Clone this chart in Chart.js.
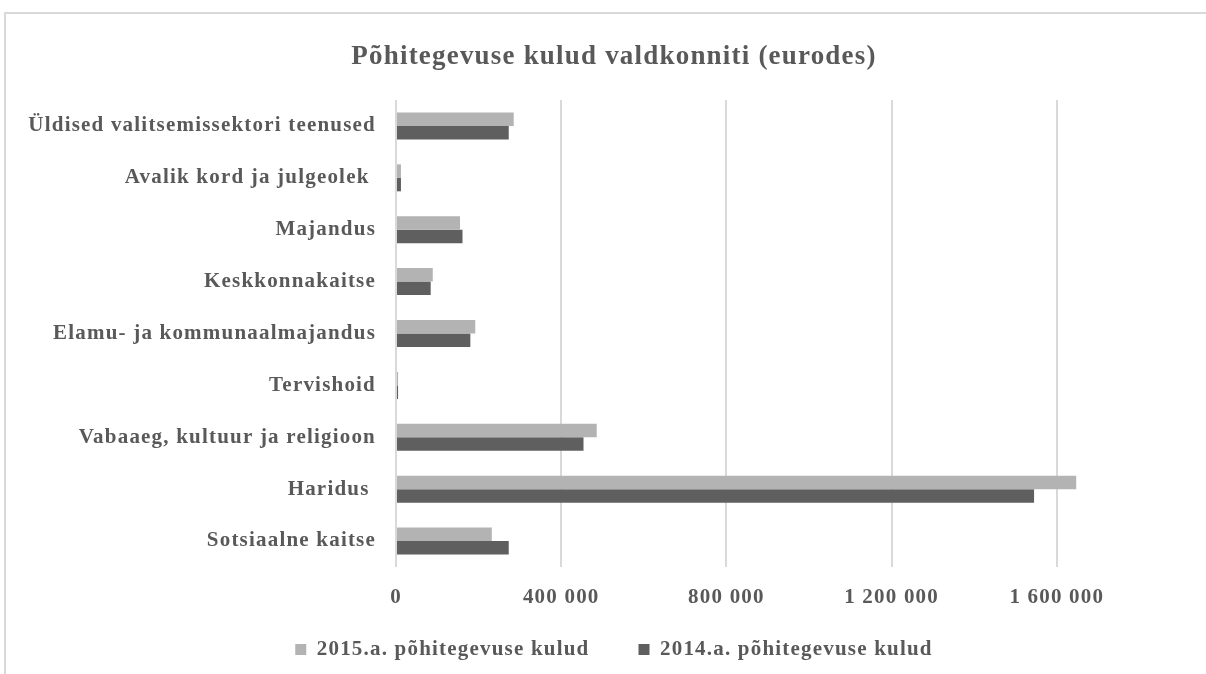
<!DOCTYPE html>
<html>
<head>
<meta charset="utf-8">
<script src="https://cdn.jsdelivr.net/npm/chart.js@4/dist/chart.umd.min.js"></script>
<style>
    html, body { margin: 0; padding: 0; background: #fff; overflow: hidden; }
    #wrap {
        position: absolute; left: 4px; top: 12px;
        width: 1218px; height: 662px;
        border-top: 2px solid #d9d9d9; border-left: 2px solid #d9d9d9;
        box-sizing: border-box;
    }
</style>
</head>
<body>
<div id="wrap"><canvas id="chart"></canvas></div>
<script>
const categories = [
    'Üldised valitsemissektori teenused',
    'Avalik kord ja julgeolek ',
    'Majandus',
    'Keskkonnakaitse',
    'Elamu- ja kommunaalmajandus',
    'Tervishoid',
    'Vabaaeg, kultuur ja religioon',
    'Haridus ',
    'Sotsiaalne kaitse'
];
const kulud2015 = [285000, 12000, 155000, 89000, 192000, 5000, 486000, 1647000, 232000];
const kulud2014 = [273000, 12000, 161000, 84000, 180000, 5000, 454000, 1545000, 273000];
const xTicks = [0, 400000, 800000, 1200000, 1600000];

const serif = 'Liberation Serif';
const textColor = '#595959';

function fmt(v) {
    return String(v).replace(/\B(?=(\d{3})+(?!\d))/g, ' ');
}

// wider letter spacing like the original; legend kept low but drawn a bit higher
const tweaks = {
    id: 'tweaks',
    beforeUpdate(chart) {
        if (chart.legend && !chart.legend._patched) {
            const origFit = chart.legend.fit;
            chart.legend.fit = function () {
                origFit.call(this);
                this.height = 57;
            };
            chart.legend._patched = true;
        }
    },
    afterLayout(chart) {
        const lg = chart.legend;
        if (lg) {
            lg.top = 576;
            lg.bottom = lg.top + 80;
            if (lg.adjustHitBoxes) lg.adjustHitBoxes();
        }
    },
    beforeLayout(chart) { chart.ctx.letterSpacing = '1.2px'; },
    beforeDraw(chart) { chart.ctx.letterSpacing = '1.2px'; }
};

document.addEventListener('DOMContentLoaded', function () {
    const ctx = document.getElementById('chart').getContext('2d');
    new Chart(ctx, {
        type: 'bar',
        data: {
            labels: categories,
            datasets: [{
                label: '2015.a. põhitegevuse kulud',
                data: kulud2015,
                backgroundColor: '#b3b3b3',
                borderWidth: 0
            }, {
                label: '2014.a. põhitegevuse kulud',
                data: kulud2014,
                backgroundColor: '#5f5f5f',
                borderWidth: 0
            }]
        },
        plugins: [tweaks],
        options: {
            indexAxis: 'y',
            responsive: true,
            maintainAspectRatio: false,
            animation: false,
            datasets: { bar: { barPercentage: 1, categoryPercentage: 0.52 } },
            layout: { padding: 0 },
            plugins: {
                title: {
                    display: true,
                    text: 'Põhitegevuse kulud valdkonniti (eurodes)',
                    color: textColor,
                    font: { family: serif, size: 27, weight: 'bold' },
                    padding: { top: 27, bottom: 26.6 }
                },
                legend: {
                    position: 'bottom',
                    labels: {
                        color: textColor,
                        font: { family: serif, size: 21, weight: 'bold' },
                        boxWidth: 11,
                        boxHeight: 11,
                        padding: 49
                    }
                },
                tooltip: { enabled: false }
            },
            scales: {
                x: {
                    min: 0,
                    max: 2000000,
                    afterBuildTicks: function (scale) {
                        scale.ticks = xTicks.map(v => ({ value: v }));
                    },
                    afterFit: function (scale) { scale.height = 50; },
                    grid: { color: '#d9d9d9', lineWidth: 2, drawTicks: false },
                    border: { display: false },
                    ticks: {
                        color: textColor,
                        padding: 18,
                        maxRotation: 0,
                        font: { family: serif, size: 21, weight: 'bold' },
                        callback: v => fmt(v)
                    }
                },
                y: {
                    grid: { display: false, drawTicks: false },
                    border: { display: false },
                    afterFit: function (scale) { scale.width = 390; },
                    ticks: {
                        color: textColor,
                        padding: 20,
                        font: { family: serif, size: 21, weight: 'bold' }
                    }
                }
            }
        }
    });
});
</script>
</body>
</html>
